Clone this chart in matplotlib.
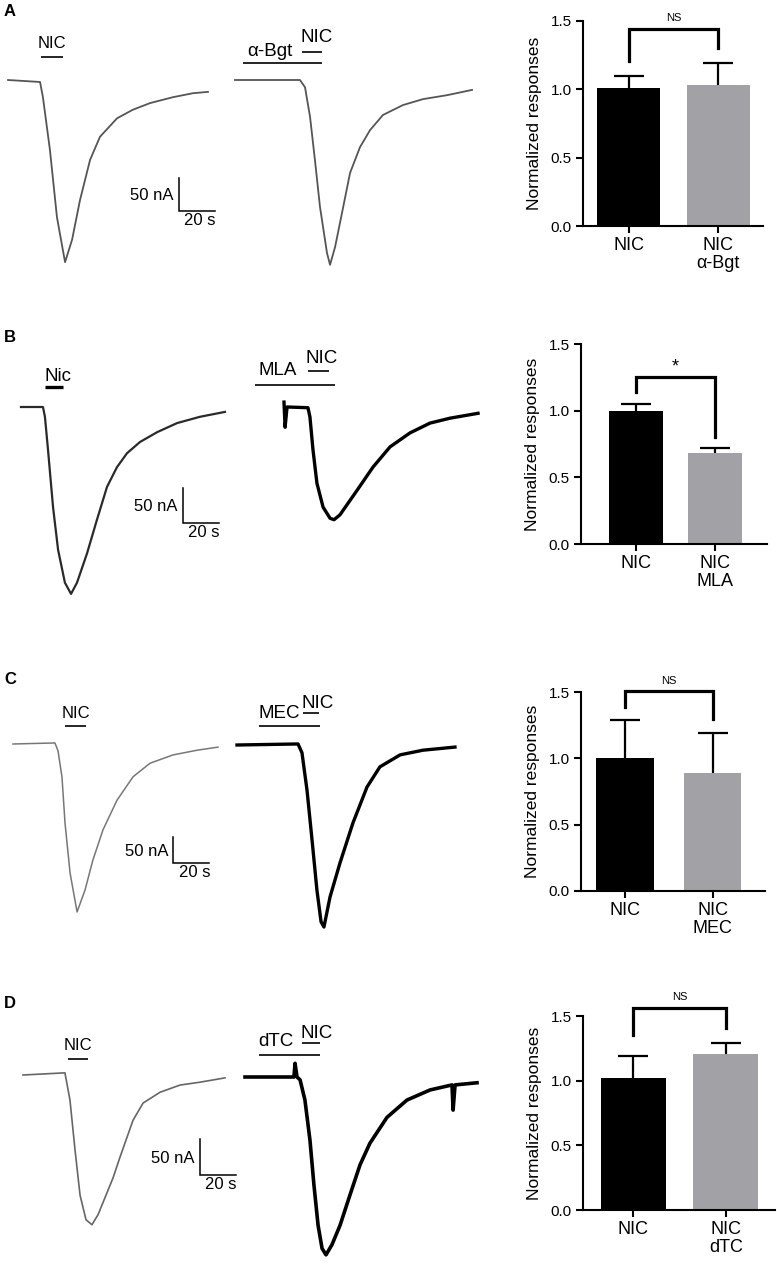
import numpy as np
import matplotlib.pyplot as plt

plt.rcParams['font.family'] = ['Liberation Sans', 'DejaVu Sans']
plt.rcParams['lines.solid_joinstyle'] = 'round'

W, H = 777, 1264
PX_S = 1.8  # pixels per second in the traces

# ---- traces: time (s), current (nA) ----
a1_t = [0, 17.8, 19.4, 23.3, 27.2, 31.7, 35.6, 40.0, 45.6, 51.1, 60.6, 69.4, 78.9, 91.7, 102.8, 111.1]
a1_i = [0, -3, -26, -106, -208, -276, -242, -182, -121, -86, -58, -45, -35, -26, -20, -18]
a2_t = [0, 36.1, 38.9, 41.7, 44.4, 47.2, 51.1, 52.8, 55.6, 59.4, 63.9, 69.4, 75.0, 82.2, 93.3, 104.4, 117.8, 131.7]
a2_i = [0, 0, -11, -56, -121, -192, -262, -280, -253, -202, -141, -102, -76, -53, -38, -29, -23, -15]

b1_t = [0, 12.2, 13.3, 15.0, 17.8, 20.6, 24.4, 27.8, 31.1, 36.7, 42.2, 47.8, 53.3, 58.9, 66.1, 75.6, 86.7, 99.4, 113.3]
b1_i = [0, 0, -14, -61, -143, -204, -251, -267, -251, -209, -161, -114, -86, -66, -50, -36, -23, -14, -7]
b2_t = [0, 0.6, 1.7, 13.3, 14.4, 16.1, 18.3, 21.7, 25.6, 27.8, 31.1, 40.6, 49.4, 58.9, 70.0, 81.1, 92.2, 107.8]
b2_i = [7, -29, 0, -1, -14, -61, -109, -143, -159, -161, -154, -119, -86, -57, -37, -23, -16, -9]

c1_t = [0, 23.3, 25.0, 27.2, 28.9, 31.7, 35.6, 40.0, 44.4, 50.0, 57.8, 66.7, 76.1, 88.9, 102.2, 113.9]
c1_i = [0, 2, -13, -63, -152, -248, -323, -281, -223, -165, -108, -63, -37, -21, -12, -6]
c2_t = [0, 33.9, 36.1, 38.9, 41.7, 44.4, 46.7, 48.3, 51.7, 57.2, 64.4, 72.2, 79.4, 90.6, 103.3, 121.1]
c2_i = [0, 2, -15, -87, -183, -279, -340, -350, -292, -227, -150, -81, -42, -19, -10, -4]

d1_t = [0, 23.3, 26.1, 28.9, 31.7, 35.0, 38.3, 41.7, 46.1, 50.0, 53.9, 61.1, 66.7, 76.1, 87.2, 98.3, 112.2]
d1_i = [0, 3, -35, -104, -167, -201, -208, -194, -167, -143, -114, -63, -39, -24, -14, -10, -4]
d2_t = [0, 27.2, 27.8, 28.9, 30.6, 33.3, 36.1, 38.3, 40.6, 42.8, 45.0, 48.3, 52.8, 58.3, 63.9, 69.4,
        78.9, 90.0, 102.8, 115.0, 115.6, 116.7, 128.9]
d2_i = [0, 0, 19, 0, -4, -32, -88, -150, -206, -238, -247, -233, -206, -164, -122, -92,
        -56, -32, -18, -11, -46, -11, -8]

# drug application windows (s)
a1_nic = (18.3, 30.6)
a2_bgt, a2_nic = (4.4, 48.3), (37.2, 48.3)
b1_nic = (13.3, 23.3)
b2_mla, b2_nic = (-16.1, 28.3), (13.3, 25.0)
c1_nic = (28.9, 40.6)
c2_mec, c2_nic = (12.2, 46.1), (36.7, 45.6)
d1_nic = (25.0, 36.1)
d2_dtc, d2_nic = (7.8, 41.7), (31.7, 41.7)

# ---- bar data ----
lab_a = ['NIC', 'NIC\nα-Bgt']
lab_b = ['NIC', 'NIC\nMLA']
lab_c = ['NIC', 'NIC\nMEC']
lab_d = ['NIC', 'NIC\ndTC']
mean_a, err_a = [1.01, 1.03], [0.09, 0.16]
mean_b, err_b = [1.00, 0.68], [0.05, 0.04]
mean_c, err_c = [1.00, 0.89], [0.29, 0.30]
mean_d, err_d = [1.02, 1.21], [0.17, 0.08]

fig = plt.figure(figsize=(W/100, H/100), dpi=100)


def trace_ax(x0, y0, px_na):
    left, right, up, down = 50, 270, 80, 200
    ax = fig.add_axes([(x0-left)/W, 1-(y0+down)/H, (left+right)/W, (up+down)/H])
    ax.set_xlim(-left/PX_S, right/PX_S)
    ax.set_ylim(-down/px_na, up/px_na)
    ax.axis('off')
    ax.patch.set_alpha(0)
    return ax


def app_bar(ax, span, px_na, h_line, h_text, label, fs, xtext=None, lw=1.2):
    ax.plot(span, [h_line/px_na]*2, color='k', lw=lw, solid_capstyle='butt')
    xt = sum(span)/2 if xtext is None else xtext
    ax.text(xt, h_text/px_na, label, ha='center', va='center', fontsize=fs)


def scale_bar(ax, t, i, px_na):
    ax.plot([t, t, t+20], [i+50, i, i], color='k', lw=1.1, solid_joinstyle='miter')
    ax.text(t - 5/PX_S, i + 23, '50 nA', ha='right', va='center', fontsize=12)
    ax.text(t + 20 + 1/PX_S, i - 2/px_na, '20 s', ha='right', va='top', fontsize=12)


def bar_panel(rect, xlim, width, labels, means, errs, sig, bracket, sig_fs):
    l, t, r, b = rect
    ax = fig.add_axes([l/W, 1-b/H, (r-l)/W, (b-t)/H])
    x = np.arange(2)
    ax.bar(x, means, width, color=['black', '#a2a2a6'])
    eb = ax.errorbar(x, means, yerr=[np.zeros(2), errs], fmt='none', ecolor='black',
                     elinewidth=1.6, capsize=11, capthick=1.6)
    eb[1][0].set_visible(False)  # no cap on the lower side
    ax.set_xlim(*xlim)
    ax.set_ylim(0, 1.5)
    ax.set_yticks([0, 0.5, 1.0, 1.5])
    ax.set_yticklabels(['0.0', '0.5', '1.0', '1.5'], fontsize=11)
    ax.set_xticks(x)
    ax.set_xticklabels(labels, fontsize=13, linespacing=1.1)
    for s in ['top', 'right']:
        ax.spines[s].set_visible(False)
    for s in ['left', 'bottom']:
        ax.spines[s].set_linewidth(1.5)
    ax.tick_params(width=1.5, length=5, pad=3)
    ax.set_ylabel('Normalized responses', fontsize=12.5, labelpad=6)
    top, l1, l2, ty = bracket
    ax.plot([0, 0, 1, 1], [l1, top, top, l2], color='k', lw=2.3, clip_on=False,
            solid_joinstyle='miter')
    ax.text(0.5, ty, sig, ha='center', va='center', fontsize=sig_fs)
    return ax


# ---- row A ----
ax = trace_ax(8, 80, 0.66)
ax.plot(a1_t, a1_i, color='#555555', lw=1.3)
app_bar(ax, a1_nic, 0.66, 23, 37, 'NIC', 12)
scale_bar(ax, 95, -198.5, 0.66)
ax = trace_ax(235, 80, 0.66)
ax.plot(a2_t, a2_i, color='#555555', lw=1.3)
app_bar(ax, a2_bgt, 0.66, 17, 28, 'α-Bgt', 13.5, xtext=19.2)
app_bar(ax, a2_nic, 0.66, 28, 43, 'NIC', 13.5, xtext=45.6)
bar_panel((583, 21, 763, 226), (-0.51, 1.5), 0.7, lab_a, mean_a, err_a, 'NS',
          (1.445, 1.21, 1.30, 1.52), 8)

# ---- row B ----
ax = trace_ax(21, 407, 0.7)
ax.plot(b1_t, b1_i, color='#2a2a2a', lw=1.6)
app_bar(ax, b1_nic, 0.7, 20, 31, 'Nic', 13.5, xtext=20.6, lw=2.4)
scale_bar(ax, 90, -165.7, 0.7)
ax = trace_ax(284, 407, 0.7)
ax.plot(b2_t, b2_i, color='black', lw=2.4)
app_bar(ax, b2_mla, 0.7, 22, 37, 'MLA', 13.5, xtext=-3.3)
app_bar(ax, b2_nic, 0.7, 36, 49, 'NIC', 13.5, xtext=21.1)
bar_panel((581, 344, 767, 544), (-0.69, 1.65), 0.68, lab_b, mean_b, err_b, '*',
          (1.25, 1.14, 0.80, 1.33), 13)

# ---- row C ----
ax = trace_ax(13, 744, 0.52)
ax.plot(c1_t, c1_i, color='#777777', lw=1.1)
app_bar(ax, c1_nic, 0.52, 18, 31, 'NIC', 12)
scale_bar(ax, 88.9, -228.8, 0.52)
ax = trace_ax(237, 745, 0.52)
ax.plot(c2_t, c2_i, color='black', lw=2.4)
app_bar(ax, c2_mec, 0.52, 19, 32, 'MEC', 13.5, xtext=23.3)
app_bar(ax, c2_nic, 0.52, 32, 42, 'NIC', 13.5, xtext=44.7)
bar_panel((581, 692, 765, 891), (-0.503, 1.6), 0.66, lab_c, mean_c, err_c, 'NS',
          (1.507, 1.39, 1.30, 1.58), 8)

# ---- row D ----
ax = trace_ax(23, 1075, 0.72)
ax.plot(d1_t, d1_i, color='#666666', lw=1.2)
app_bar(ax, d1_nic, 0.72, 16, 30, 'NIC', 12)
scale_bar(ax, 98.3, -138.9, 0.72)
ax = trace_ax(245, 1077, 0.72)
ax.plot(d2_t, d2_i, color='black', lw=2.6)
app_bar(ax, d2_dtc, 0.72, 22, 35, 'dTC', 13.5, xtext=17.2)
app_bar(ax, d2_nic, 0.72, 34, 44, 'NIC', 13.5, xtext=40.0)
bar_panel((583, 1016, 775, 1210), (-0.54, 1.53), 0.7, lab_d, mean_d, err_d, 'NS',
          (1.56, 1.35, 1.41, 1.65), 8)

# panel letters
for letter, y in zip('ABCD', [11, 338, 680, 1003]):
    fig.text(10/W, 1 - y/H, letter, fontsize=12, fontweight='bold', ha='center', va='center')

fig.savefig('out.png', dpi=100)
